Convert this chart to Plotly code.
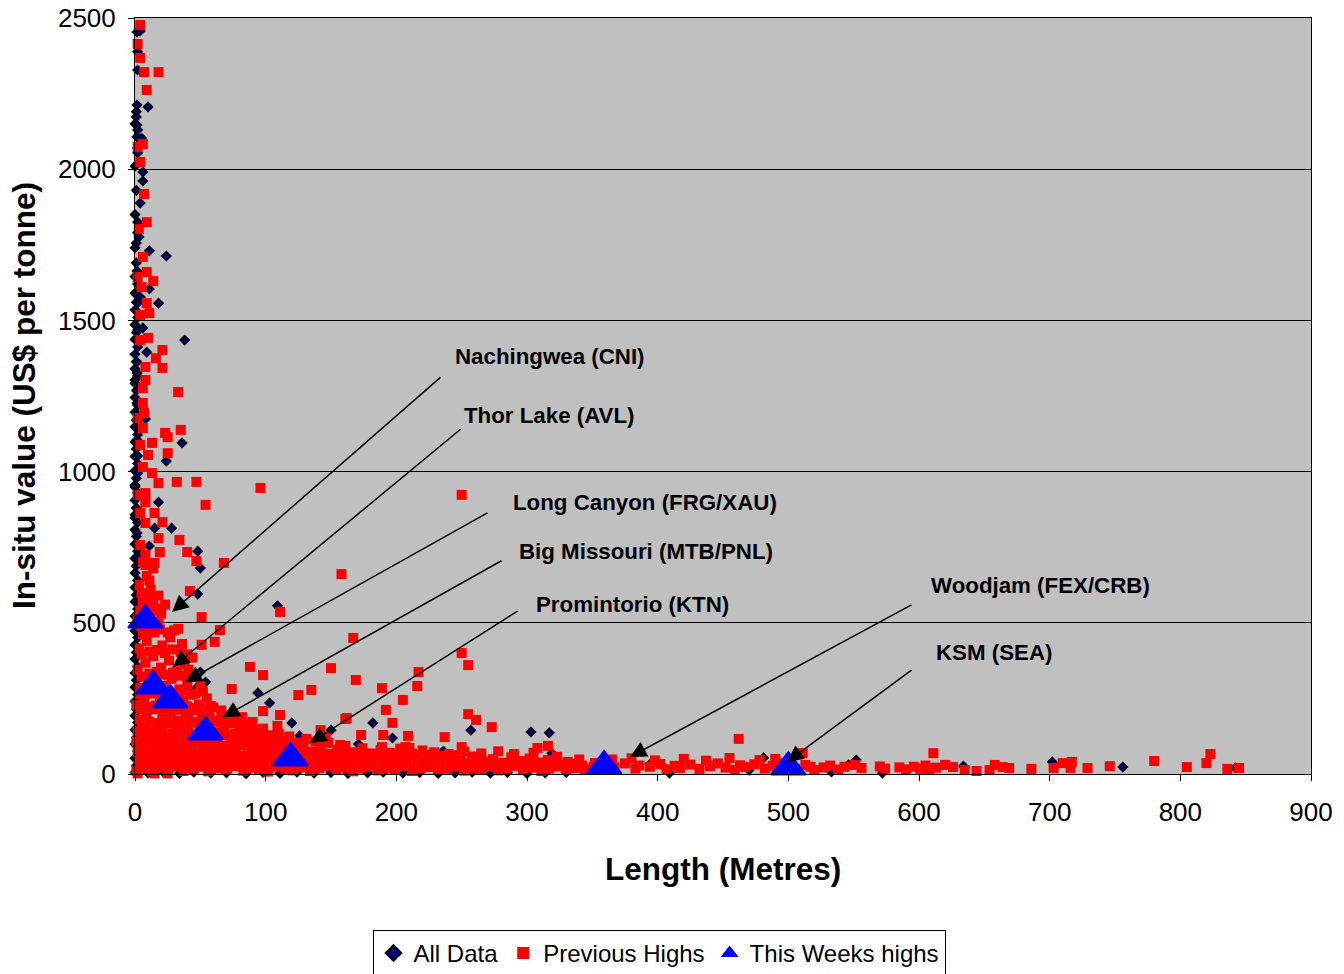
import plotly.graph_objects as go

# ---------------- DATA ----------------
# All Data: column of points near x = 0
all_column = [(0,5),(1,28),(0,52),(2,75),(0,98),(1,120),(0,146),(2,170),(0,193),(1,215),(0,240),(2,262),
              (0,287),(1,310),(0,334),(2,356),(0,380),(1,402),(0,427),(2,451),(0,474),(1,497),(0,522),(2,546),
              (0,570),(1,592),(0,617),(2,641),(0,665),(1,688),(0,713),(2,737),(0,760),(1,785),(0,808),(2,832),
              (0,857),(1,880),(0,905),(2,930),(0,955),(1,978),(0,1003),(2,1027),(0,1050),(1,1075),(0,1098),
              (2,1122),(0,1148),(1,1170),(0,1196),(2,1220),(0,1245),(1,1268),(0,1292),(2,1316),(0,1340),
              (1,1364),(0,1388),(2,1412),(0,1437),(1,1460),(0,1486),(2,1510),(0,1535),(1,1560),(0,1590),
              (2,1620),(0,1645),(1,1690),(0,1740),(2,1790),(0,1850),(1,1930),(0,2010),(2,2070),(0,2150),(1,2190)]
# All Data: points along the x axis
all_bottom = [(10,3),(22,5),(34,2),(45,6),(58,3),(70,4),(85,1),(98,5),(111,2),(124,6),(137,3),(150,5),
              (163,2),(178,4),(190,6),(205,3),(218,5),(232,2),(245,4),(258,6),(272,3),(285,5),(300,2),
              (314,4),(330,5)]
# All Data: scattered points
all_scatter = [(1.5,2454),(4,2457),(2,2388),(2,2328),(1.5,2212),(10,2206),(1,2173),(1.5,2146),(2,2130),
               (1.5,2107),(5,2103),(2,2054),(6,1991),(6,1961),(4,1888),(2,1825),(3,1776),(1,1756),(11,1730),
               (24,1713),(1.5,1663),(11,1604),(1.5,1584),(4,1577),(18,1557),(2,1557),(2,1468),(6,1475),
               (38,1435),(9,1395),(1.5,1362),(1.5,1326),(0,1303),(1.5,1227),(8,1174),(1.5,1105),(36,1095),
               (2,1052),(24,1035),(2,995),(0,949),(18,899),(0,847),(15,813),(28,813),(1.5,797),(11,754),
               (48,737),(2,718),(50,681),(48,595),(109,556),(94,268),(103,235),(120,169),(126,126),(182,169),
               (197,119),(171,99),(80,162),(150,145),(50,337),(44,321),(54,304),(47,284),(257,145),(303,139),
               (317,136),(319,69),(236,76),(249,53),(129,103),(396,40),(403,30),(409,3),(438,40),(470,13),
               (481,53),(533,7),(546,30),(552,46),(572,3),(634,26),(702,40),(756,23),(842,20),(80,155),(129,99)]

# Previous Highs: upper scattered points
prev_upper = [(4,2477),(2,2414),(4,2368),(7,2321),(18,2321),(9,2262),(6,2083),(2,2073),(4,2024),(7,1918),
              (9,1825),(3,1802),(6,1710),(9,1660),(2,1644),(14,1630),(5,1610),(9,1557),(4,1518),(11,1524),
              (4,1435),(10,1442),(21,1402),(16,1375),(21,1343),(8,1346),(8,1303),(6,1276),(33,1263),(6,1227),
              (2,1177),(7,1194),(6,1144),(23,1128),(25,1114),(35,1138),(4,1088),(13,1095),(10,1055),(25,1061),
              (6,1015),(13,995),(18,962),(32,966),(47,966),(96,946),(8,929),(2,923),(54,890),(8,899),(4,863),
              (15,863),(21,833),(8,830),(18,780),(34,774),(4,757),(19,734),(40,734),(8,724),(47,704),(68,698),
              (15,698),(8,691),(250,923),(158,661),(111,536),(51,519),(42,605)]
# Previous Highs: mid scattered points
prev_mid = [(65,476),(61,437),(51,427),(167,450),(88,354),(98,327),(150,350),(169,311),(74,281),(125,261),
            (135,278),(217,337),(216,291),(205,245),(189,284),(192,212),(197,169),(209,126),(190,129),(162,185),
            (142,145),(98,208),(111,195),(90,172),(82,188),(250,400),(255,360),(255,198),(261,179),(273,155),
            (161,182),(173,129),(189,89),(207,89),(210,86),(237,122),(250,89),(308,86),(316,93),(157,96),
            (148,103),(89,162),(109,159)]
# Previous Highs: dense cluster near origin (rows, bottom to top)
prev_cluster_a = [(1,12),(7,20),(13,8),(19,22),(25,14),(31,25),(37,10),(44,18),(50,24),(56,9),(63,19),(70,13),
    (76,26),(83,11),(89,21),(95,15),(102,8),(108,24),(115,17),(121,12),(128,22),(134,10),(141,19),(147,27),
    (154,13),(160,21),(167,9),(173,18),(180,25),(186,12),(193,20),(199,14),(206,27),(212,10),(219,19),
    (226,23),(232,13),(239,17),(245,26),(252,11),(258,20),(265,15),(271,24),(278,12),(284,19),(291,27),
    (297,14),(304,21),(311,10),(317,18),(324,25),(330,13),(337,20),(344,16),(351,24),(2,2),(15,2),(25,2)]
prev_cluster_a2 = [(4,32),(11,28),(18,35),(26,30),(33,27),(40,34),(48,29),(55,33),(62,27),(69,35),(77,30),
    (84,28),(92,33),(99,29),(107,35),(114,27),(121,32),(129,30),(136,34),(144,28),(152,33),(159,29),(166,35),
    (174,30),(181,27),(189,33),(196,30),(204,35),(211,28),(219,33),(226,30),(234,35),(242,28),(249,32),
    (257,29),(264,34),(272,30),(279,27),(287,33),(295,30),(302,35),(310,28),(318,32),(326,30),(334,34),(342,28)]
prev_cluster_b = [(3,45),(10,38),(16,55),(22,42),(29,60),(35,48),(41,36),(47,57),(54,44),(60,52),(66,39),
    (73,58),(79,46),(85,35),(92,54),(98,42),(104,61),(111,49),(117,37),(124,56),(130,44),(137,53),(143,40),
    (150,59),(156,47),(163,36),(169,55),(176,43),(182,52),(189,39),(195,58),(202,46),(208,35),(215,54),
    (221,42),(228,50),(234,38),(241,57),(247,45),(254,36),(261,53),(267,41),(274,49),(281,37),(288,55),
    (295,43),(302,51),(309,38),(316,46),(323,57),(331,40),(340,48),(352,36)]
prev_cluster_b2 = [(5,62),(12,66),(19,60),(26,64),(33,61),(40,67),(47,62),(54,65),(61,60),(68,64),(75,67),
    (82,61),(89,65),(96,62),(103,58),(110,66),(117,63),(124,60),(131,65),(138,62),(145,67),(152,61),(159,64),
    (166,60),(173,66),(180,62),(187,59),(194,64),(201,61),(208,65),(216,60),(224,63),(233,59),(245,62),(258,58)]
prev_cluster_c = [(2,72),(8,88),(14,67),(20,80),(27,93),(33,70),(39,84),(46,66),(52,91),(58,76),(65,87),
    (71,68),(77,82),(84,95),(90,71),(96,85),(103,66),(109,79),(116,92),(122,70),(129,86),(135,74),(142,90),
    (148,67),(155,81),(161,93),(168,72),(174,85),(181,68),(188,80),(195,70),(203,84),(212,67),(220,78),
    (229,72),(240,66),(252,74),(265,68),(278,75),(290,66),(305,70)]
prev_cluster_c2 = [(4,96),(11,100),(17,94),(23,102),(30,97),(37,99),(43,95),(50,101),(57,96),(63,100),(70,94),
    (77,99),(83,102),(90,96),(97,98),(104,93),(111,100),(118,96),(126,92)]
prev_cluster_d = [(1,108),(6,122),(12,103),(18,117),(24,128),(30,105),(36,119),(42,110),(48,126),(55,102),
    (61,115),(67,129),(73,107),(80,121),(86,112),(92,127),(99,104),(105,118),(112,109),(118,124),(125,103),
    (131,116),(138,107),(146,120),
    (5,132),(11,128),(17,135),(23,130),(29,134),(35,131),(41,136),(47,130),(53,133),(59,128),(65,135),
    (71,131),(77,133),(84,129),(90,134),(97,131),(104,128),(110,133)]
prev_cluster_e = [(2,142),(8,158),(14,137),(20,151),(26,166),(32,140),(38,155),(44,170),(50,145),(56,160),
    (62,136),(68,152),(74,167),(80,143),(86,158),(92,139),(98,150),
    (5,165),(11,172),(17,168),(23,175),(29,170),(35,166),(41,178),(47,171),(53,167),(59,174),(65,169),
    (71,176),(78,170),(85,165)]
prev_cluster_f = [(3,180),(9,197),(15,214),(21,185),(27,203),(33,176),(39,192),(45,210),(51,183),(57,199),
    (63,178),(69,194),(75,182),
    (4,214),(10,221),(16,226),(22,218),(28,229),(34,212),(40,224),(46,218),(52,214),(60,220),(66,210)]
prev_cluster_g = [(1,228),(7,248),(13,266),(19,234),(25,255),(31,222),(37,242),(43,262),(49,230),(55,250),
    (58,225),(4,262),(10,275),(16,268),(22,272),(28,265),(34,270),(40,276),(46,266),(52,272)]
prev_cluster_h = [(4,285),(10,306),(16,327),(22,292),(28,315),(34,280),(40,300),(46,322),(50,290),
    (5,322),(11,332),(17,338),(23,328),(29,335),(35,325),(41,330)]
prev_cluster_i = [(2,345),(8,368),(14,390),(20,352),(26,375),(32,340),(38,362),(44,385),(41,345),
    (5,398),(11,405),(17,410),(23,400),(29,412),(35,404),(40,396)]
prev_cluster_j = [(3,415),(9,440),(15,468),(21,425),(27,452),(33,480),(36,430),(5,488),(18,498),
    (6,462),(12,472),(19,478),(25,468),(30,475)]
prev_cluster_k = [(2,515),(8,545),(14,575),(20,530),(23,560),(5,598),(12,610),(18,590),
    (4,540),(10,560),(16,548),(6,575),(11,585),(17,540),
    (3,625),(9,655),(14,680),(6,700),(11,640)]
# Previous Highs: long tail along the x axis
prev_tail = [(361,30),(367,22),(375,35),(383,18),(386,28),(394,24),(402,33),(407,15),(413,27),(417,20),
             (425,31),(432,17),(440,26),(446,35),(452,21),(459,14),(463,29),(467,23),(474,32),(482,18),
             (488,27),(494,36),(497,20),(505,17),(513,30),(517,24),(520,13),(527,22),(532,28),(538,15),
             (543,24),(551,30),(556,20),(570,25),(574,18),(585,22),(590,15),(596,24),(601,17),(605,28),
             (608,14),(613,21),(620,30),(626,23),(635,13),(644,10),(654,13),(658,30),(664,23),(669,20),
             (686,17),(703,20),(710,36),(717,40),(716,20),(729,20),(746,26),(780,43),(805,23),(820,36),
             (823,66),(836,17),(845,20),(611,69),(511,69),(462,116),
             (365,48),(380,52),(398,45),(420,50),(437,44),(455,53),(478,46),(490,50)]

# This Weeks highs
week_x = [8, 14, 27, 54, 119, 359, 500]
week_y = [509, 291, 245, 139, 53, 26, 23]

# Labels: (text, head_x, head_y, tail_x, tail_y, text_x, text_y)
labels = [("Nachingwea (CNI)", 28.3, 536, 234.9, 1316, 243, 1379),
          ("Thor Lake (AVL)", 29.1, 354, 250.3, 1144, 250, 1184),
          ("Long Canyon (FRG/XAU)", 38.3, 304, 270.9, 866, 287.7, 899),
          ("Big Missouri (MTB/PNL)", 67.3, 188, 281.6, 708, 292.3, 737),
          ("Promintorio (KTN)", 133.9, 102.5, 293.9, 542, 305.4, 559),
          ("Woodjam (FEX/CRB)", 378.8, 56, 595.4, 562, 607.6, 622),
          ("KSM (SEA)", 499, 40, 595.4, 347, 611.5, 403)]

x_ticks = [0, 100, 200, 300, 400, 500, 600, 700, 800, 900]
y_ticks = [0, 500, 1000, 1500, 2000, 2500]

# ---------------- FIGURE ----------------
all_pts = all_column + all_bottom + all_scatter
prev_pts = (prev_cluster_a + prev_cluster_a2 + prev_cluster_b + prev_cluster_b2 + prev_cluster_c +
            prev_cluster_c2 + prev_cluster_d + prev_cluster_e + prev_cluster_f + prev_cluster_g +
            prev_cluster_h + prev_cluster_i + prev_cluster_j + prev_cluster_k +
            prev_mid + prev_upper + prev_tail)

fig = go.Figure()
fig.add_trace(go.Scatter(
    x=[p[0] for p in all_pts], y=[p[1] for p in all_pts], mode="markers", name="All Data",
    marker=dict(symbol="diamond", size=7, color="#000070", line=dict(color="black", width=1.5)),
    cliponaxis=False))
fig.add_trace(go.Scatter(
    x=[p[0] for p in prev_pts], y=[p[1] for p in prev_pts], mode="markers", name="Previous Highs",
    marker=dict(symbol="square", size=10, color="#FF0000", line=dict(width=0)),
    cliponaxis=False))
fig.add_trace(go.Scatter(
    x=week_x, y=week_y, mode="markers", name="This Weeks highs",
    marker=dict(symbol="triangle-up", size=30, color="#0000FF", line=dict(color="#0000FF", width=2)),
    cliponaxis=False))

font_main = "Liberation Sans, Arial, sans-serif"
annotations = []
for text, hx, hy, tx, ty, lx, ly in labels:
    annotations.append(dict(x=hx, y=hy, ax=tx, ay=ty, xref="x", yref="y", axref="x", ayref="y",
                            text="", showarrow=True, arrowhead=2, arrowsize=2.2, arrowwidth=1.5,
                            arrowcolor="black", standoff=0))
    annotations.append(dict(x=lx, y=ly, xref="x", yref="y", text="<b>%s</b>" % text, showarrow=False,
                            xanchor="left", yanchor="middle",
                            font=dict(family=font_main, size=22.3, color="black")))

annotations.append(dict(x=0, y=0.5, xref="paper", yref="paper", xshift=-111, textangle=-90,
                        text="<b>In-situ value (US$ per tonne)</b>", showarrow=False,
                        xanchor="center", yanchor="middle",
                        font=dict(family=font_main, size=31.5, color="black")))
annotations.append(dict(x=0.5, y=0, xref="paper", yref="paper", yshift=-95,
                        text="<b>Length (Metres)</b>", showarrow=False,
                        xanchor="center", yanchor="middle",
                        font=dict(family=font_main, size=31.5, color="black")))

fig.update_layout(
    width=1344, height=974,
    margin=dict(l=135, r=33, t=18, b=200, autoexpand=False),
    paper_bgcolor="white", plot_bgcolor="#C0C0C0",
    font=dict(family=font_main, size=26, color="black"),
    showlegend=True,
    legend=dict(orientation="h", x=0.4456, y=-0.2063, xanchor="center", yanchor="top",
                bgcolor="white", bordercolor="black", borderwidth=1,
                font=dict(family=font_main, size=24, color="black"), itemsizing="constant"),
    annotations=annotations,
)
fig.update_xaxes(range=[0, 900], tickvals=x_ticks, ticks="outside", ticklen=6, tickcolor="black",
                 showgrid=False, zeroline=False, showline=True, linecolor="black", linewidth=1,
                 mirror=True, tickfont=dict(size=26), automargin=False, ticklabelstandoff=9)
fig.update_yaxes(range=[0, 2500], tickvals=y_ticks, ticks="outside", ticklen=6, tickcolor="black",
                 showgrid=True, gridcolor="black", gridwidth=1, zeroline=False, showline=True,
                 linecolor="black", linewidth=1, mirror=True, tickfont=dict(size=26), automargin=False,
                 ticklabelstandoff=7)

# Remove the default 8px body margin so the figure fills the window exactly.
fig.write_html("out.html", config={"displayModeBar": False},
               post_script="document.body.style.margin='0px';")
